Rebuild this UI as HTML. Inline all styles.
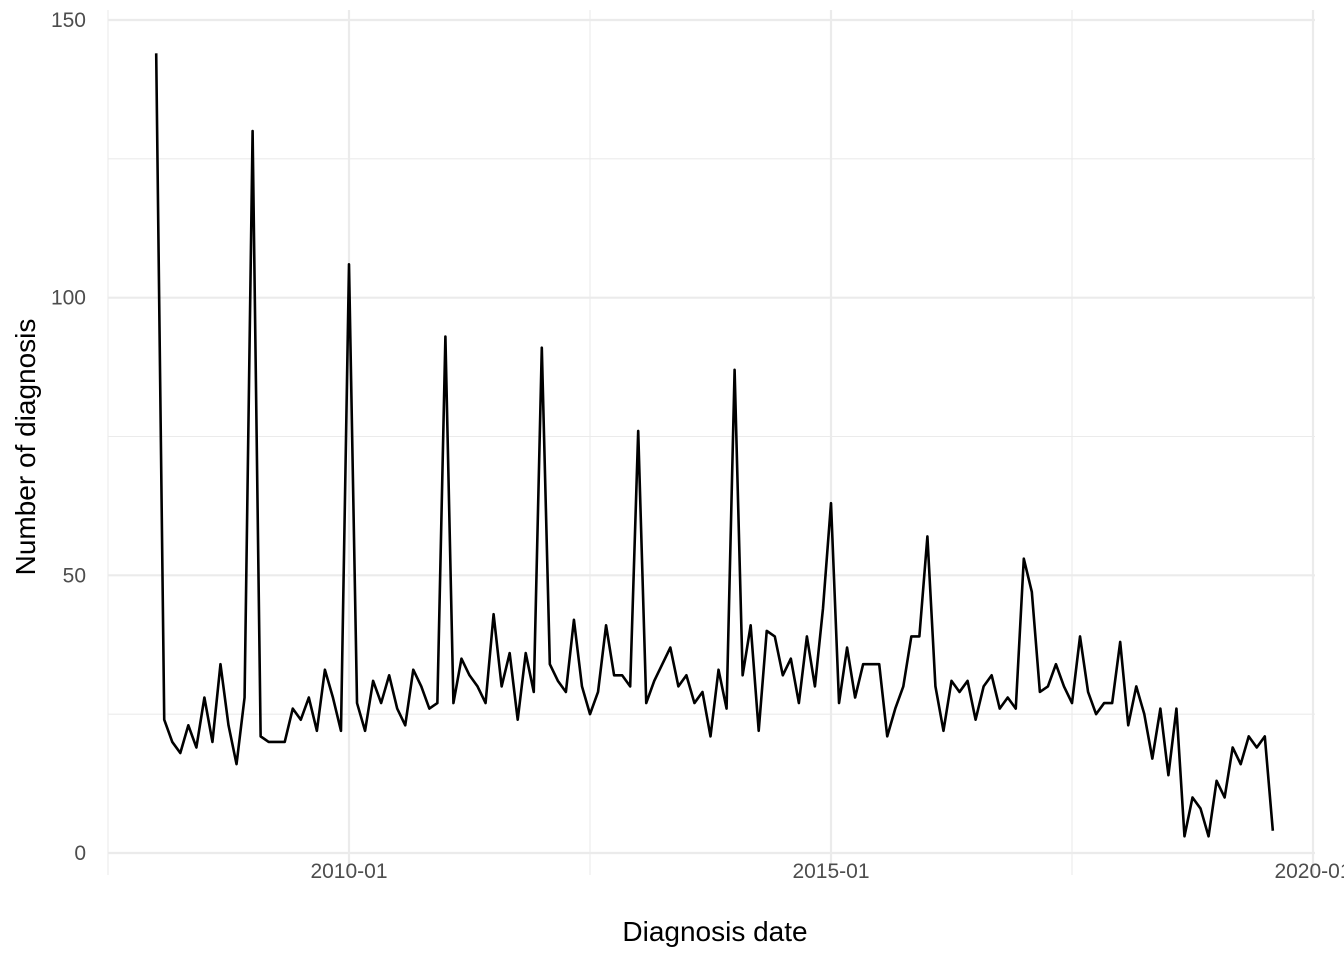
<!DOCTYPE html>
<html><head><meta charset="utf-8"><style>
html,body{margin:0;padding:0;background:#fff;}
svg{display:block;font-family:"Liberation Sans",Arial,sans-serif;}
</style></head><body>
<svg id="chart" width="1344" height="960">
<g id="grid"></g>
<g id="axes"></g>
<path id="line" fill="none" stroke="#000" stroke-width="2.6" stroke-linejoin="round"/>
<text x="715" y="941" text-anchor="middle" font-size="28" fill="#000">Diagnosis date</text>
<text transform="translate(35,447) rotate(-90)" text-anchor="middle" font-size="28" fill="#000">Number of diagnosis</text>
</svg>
<script>
const startYear = 2008, startMonth = 0;
const counts = [144,24,20,18,23,19,28,20,34,23,16,28,
130,21,20,20,20,26,24,28,22,33,28,22,
106,27,22,31,27,32,26,23,33,30,26,27,
93,27,35,32,30,27,43,30,36,24,36,29,
91,34,31,29,42,30,25,29,41,32,32,30,
76,27,31,34,37,30,32,27,29,21,33,26,
87,32,41,22,40,39,32,35,27,39,30,44,
63,27,37,28,34,34,34,21,26,30,39,39,
57,30,22,31,29,31,24,30,32,26,28,26,
53,47,29,30,34,30,27,39,29,25,27,27,
38,23,30,25,17,26,14,26,3,10,8,3,
13,10,19,16,21,19,21,4];
const yTicks = [0,50,100,150];
const yMinor = [25,75,125];
const xTickYears = [2010,2015,2020];
const xTickLabels = ["2010-01","2015-01","2020-01"];
const xMinorYears = [2007.5,2012.5,2017.5];

const svg = document.getElementById('chart');
const NS = 'http://www.w3.org/2000/svg';
const X = t => 349 + (t - 2010) * 96.4;
const Y = v => 853 - v * 5.5533;
const grid = document.getElementById('grid');
const axes = document.getElementById('axes');
function ln(x1,y1,x2,y2,w){const l=document.createElementNS(NS,'line');l.setAttribute('x1',x1);l.setAttribute('y1',y1);l.setAttribute('x2',x2);l.setAttribute('y2',y2);l.setAttribute('stroke','#ebebeb');l.setAttribute('stroke-width',w);grid.appendChild(l);return l;}
yMinor.forEach(v=>{const l=ln(108,Y(v),1315,Y(v),1.1);

});
xMinorYears.forEach(t=>{const l=ln(X(t),10,X(t),875,1.1);

});
yTicks.forEach(v=>{const l=ln(108,Y(v),1315,Y(v),2.2);


const t=document.createElementNS(NS,'text');t.setAttribute('x',86);t.setAttribute('y',Y(v)+7);t.setAttribute('text-anchor','end');t.setAttribute('font-size','21');t.setAttribute('fill','#4d4d4d');t.textContent=v;


axes.appendChild(t);});
xTickYears.forEach((yr,i)=>{const l=ln(X(yr),10,X(yr),875,2.2);


const t=document.createElementNS(NS,'text');t.setAttribute('x',X(yr));t.setAttribute('y',878);t.setAttribute('text-anchor','middle');t.setAttribute('font-size','21');t.setAttribute('fill','#4d4d4d');t.textContent=xTickLabels[i];


axes.appendChild(t);});
let d='';
counts.forEach((c,i)=>{const t=startYear+(startMonth+i)/12;d+=(i?'L':'M')+X(t).toFixed(2)+','+Y(c).toFixed(2);});
document.getElementById('line').setAttribute('d',d);
</script>
</body></html>
